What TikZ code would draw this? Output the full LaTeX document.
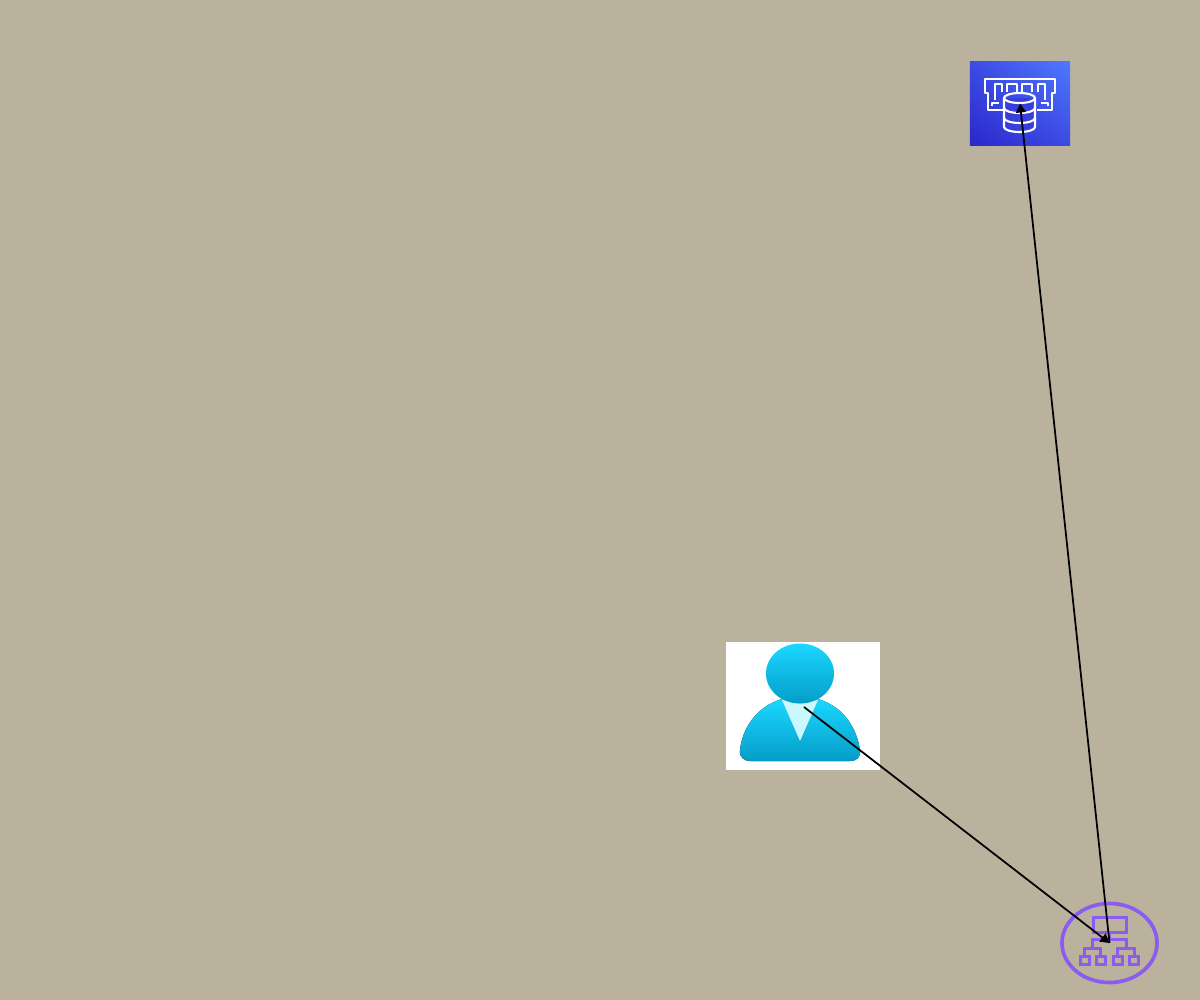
\documentclass[tikz,border=0pt]{standalone}
\usetikzlibrary{arrows.meta,shapes.geometric,shadings}
\definecolor{backdrop}{HTML}{BBB29E}
\definecolor{cachelo}{HTML}{2B27CC}
\definecolor{cachehi}{HTML}{4F78FF}
\definecolor{userhi}{HTML}{1BD8FF}
\definecolor{userlo}{HTML}{049CC8}
\definecolor{collar}{HTML}{CBF8FF}
\definecolor{netpurple}{HTML}{8C5CF0}
\tikzset{
    linkline/.style={black, line width=0.5pt, -{Triangle[length=0.9mm,width=1mm]}},
    iconline/.style={white, line width=0.6pt, line join=round},
    netline/.style={netpurple, line width=0.85pt},
    netbox/.style={netline, minimum width=0.09cm, minimum height=0.08cm, inner sep=0pt, draw, shape=rectangle},
    userfill/.style={top color=userhi, bottom color=userlo}
}
\begin{document}
\begin{tikzpicture}[x=0.01cm,y=-0.01cm]

    % Canvas
    \fill[backdrop] (0,0) rectangle (1200,1000);

    % Cache tile
    \node (cache) at (1020,103.5) [minimum width=1cm, minimum height=0.83cm, inner sep=0pt,
        shading=bilinear interpolation, lower left=cachelo, lower right=cachelo!55!cachehi,
        upper left=cachelo!55!cachehi, upper right=cachehi] {};

    % Memory module outline
    \draw[iconline] (1003,110) -- (988,110) -- (988,93) -- (985,93) -- (985,79) -- (1055,79)
        -- (1055,93) -- (1052,93) -- (1052,110) -- (1037,110);
    \draw[iconline] (995,100) -- (995,84) -- (1002,84) -- (1002,92)
        (1007,92) -- (1007,84) -- (1017,84) -- (1017,92)
        (1022,92) -- (1022,84) -- (1032,84) -- (1032,92)
        (1038,92) -- (1038,84) -- (1045,84) -- (1045,100);
    \draw[iconline] (992,106) -- (992,103) -- (999,103) (1048,106) -- (1048,103) -- (1041,103);

    % Database on top of it
    \draw[iconline, fill=cachelo!70!cachehi] (1004,98) -- (1004,127) arc (180:0:15.5 and 5) -- (1035,98);
    \draw[iconline] (1019.5,98) ellipse (15.5 and 5);
    \draw[iconline] (1004,108) arc (180:0:15.5 and 5) (1004,118) arc (180:0:15.5 and 5);

    % User figure
    \node (user) at (803,706) [fill=white, minimum width=1.54cm, minimum height=1.28cm, inner sep=0pt] {};
    \fill[userfill] (782,699) .. controls (755,707) and (742,730) .. (740,750)
        .. controls (739,757) and (744,761) .. (750,761) -- (850,761)
        .. controls (857,761) and (861,757) .. (860,750)
        .. controls (857,730) and (845,707) .. (818,699) -- (800,741) -- cycle;
    \fill[collar] (782,700) -- (800,741) -- (818,700) -- cycle;
    \node (head) at (800,673.5) [ellipse, userfill, minimum width=0.68cm, minimum height=0.6cm, inner sep=0pt] {};

    % Network ellipse
    \node (net) at (1109.5,943) [ellipse, draw=netpurple, line width=1.05pt, minimum width=0.95cm, minimum height=0.79cm, inner sep=0pt] {};

    % Hierarchy inside the ellipse
    \node (nettop) at (1109.5,925) [netbox, minimum width=0.33cm, minimum height=0.15cm] {};
    \node (leafa) at (1084.5,960) [netbox] {};
    \node (leafb) at (1100.5,960) [netbox] {};
    \node (leafc) at (1117.5,960) [netbox] {};
    \node (leafd) at (1134,960) [netbox] {};
    \coordinate (hub) at (1109.5,939);
    \draw[netline] (nettop) -- (hub);
    \draw[netline] (1092.5,948) |- (hub) -| (1126,948);
    \draw[netline] (leafa.north) |- (1092.5,948) -| (leafb.north);
    \draw[netline] (leafc.north) |- (1126,948) -| (leafd.north);

    % Links
    \coordinate (userend) at (804,707);
    \draw[linkline] (userend) -- (net.center);
    \draw[linkline] (net.center) -- (cache.center);

\end{tikzpicture}
\end{document}
